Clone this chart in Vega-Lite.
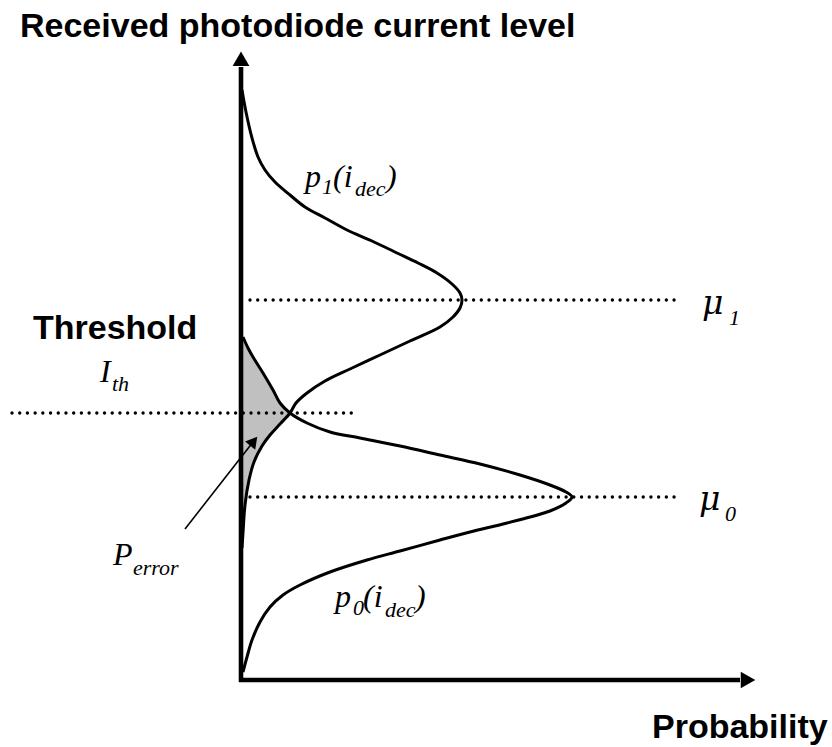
{
  "$schema": "https://vega.github.io/schema/vega-lite/v6.json",
  "width": 832,
  "height": 747,
  "padding": 0,
  "autosize": {"type": "none"},
  "background": "white",
  "config": {"view": {"stroke": null}},
  "datasets": {
    "curves": [
      {"curve": "p1", "i": 1, "prob": 0.01, "level": 5.90},
      {"curve": "p1", "i": 2, "prob": 0.05, "level": 5.68},
      {"curve": "p1", "i": 3, "prob": 0.11, "level": 5.42},
      {"curve": "p1", "i": 4, "prob": 0.17, "level": 5.23},
      {"curve": "p1", "i": 5, "prob": 0.24, "level": 5.10},
      {"curve": "p1", "i": 6, "prob": 0.34, "level": 4.98},
      {"curve": "p1", "i": 7, "prob": 0.49, "level": 4.85},
      {"curve": "p1", "i": 8, "prob": 0.64, "level": 4.73},
      {"curve": "p1", "i": 9, "prob": 0.84, "level": 4.62},
      {"curve": "p1", "i": 10, "prob": 1.06, "level": 4.50},
      {"curve": "p1", "i": 11, "prob": 1.31, "level": 4.39},
      {"curve": "p1", "i": 12, "prob": 1.56, "level": 4.27},
      {"curve": "p1", "i": 13, "prob": 1.77, "level": 4.17},
      {"curve": "p1", "i": 14, "prob": 1.96, "level": 4.07},
      {"curve": "p1", "i": 15, "prob": 2.11, "level": 3.96},
      {"curve": "p1", "i": 16, "prob": 2.19, "level": 3.87},
      {"curve": "p1", "i": 17, "prob": 2.21, "level": 3.80},
      {"curve": "p1", "i": 18, "prob": 2.19, "level": 3.72},
      {"curve": "p1", "i": 19, "prob": 2.12, "level": 3.63},
      {"curve": "p1", "i": 20, "prob": 1.99, "level": 3.53},
      {"curve": "p1", "i": 21, "prob": 1.69, "level": 3.39},
      {"curve": "p1", "i": 22, "prob": 1.39, "level": 3.25},
      {"curve": "p1", "i": 23, "prob": 1.09, "level": 3.11},
      {"curve": "p1", "i": 24, "prob": 0.84, "level": 2.99},
      {"curve": "p1", "i": 25, "prob": 0.66, "level": 2.87},
      {"curve": "p1", "i": 26, "prob": 0.55, "level": 2.77},
      {"curve": "p1", "i": 27, "prob": 0.49, "level": 2.67},
      {"curve": "p1", "i": 28, "prob": 0.39, "level": 2.56},
      {"curve": "p1", "i": 29, "prob": 0.29, "level": 2.45},
      {"curve": "p1", "i": 30, "prob": 0.21, "level": 2.34},
      {"curve": "p1", "i": 31, "prob": 0.13, "level": 2.18},
      {"curve": "p1", "i": 32, "prob": 0.08, "level": 2.00},
      {"curve": "p1", "i": 33, "prob": 0.04, "level": 1.75},
      {"curve": "p1", "i": 34, "prob": 0.02, "level": 1.47},
      {"curve": "p1", "i": 35, "prob": 0.01, "level": 1.32},
      {"curve": "p0", "i": 1, "prob": 0.02, "level": 3.43},
      {"curve": "p0", "i": 2, "prob": 0.07, "level": 3.32},
      {"curve": "p0", "i": 3, "prob": 0.12, "level": 3.23},
      {"curve": "p0", "i": 4, "prob": 0.22, "level": 3.07},
      {"curve": "p0", "i": 5, "prob": 0.32, "level": 2.90},
      {"curve": "p0", "i": 6, "prob": 0.39, "level": 2.77},
      {"curve": "p0", "i": 7, "prob": 0.49, "level": 2.67},
      {"curve": "p0", "i": 8, "prob": 0.66, "level": 2.57},
      {"curve": "p0", "i": 9, "prob": 0.89, "level": 2.48},
      {"curve": "p0", "i": 10, "prob": 1.19, "level": 2.42},
      {"curve": "p0", "i": 11, "prob": 1.59, "level": 2.34},
      {"curve": "p0", "i": 12, "prob": 1.99, "level": 2.25},
      {"curve": "p0", "i": 13, "prob": 2.39, "level": 2.16},
      {"curve": "p0", "i": 14, "prob": 2.79, "level": 2.05},
      {"curve": "p0", "i": 15, "prob": 3.09, "level": 1.95},
      {"curve": "p0", "i": 16, "prob": 3.25, "level": 1.88},
      {"curve": "p0", "i": 17, "prob": 3.31, "level": 1.83},
      {"curve": "p0", "i": 18, "prob": 3.25, "level": 1.77},
      {"curve": "p0", "i": 19, "prob": 3.09, "level": 1.69},
      {"curve": "p0", "i": 20, "prob": 2.66, "level": 1.57},
      {"curve": "p0", "i": 21, "prob": 2.29, "level": 1.48},
      {"curve": "p0", "i": 22, "prob": 1.99, "level": 1.40},
      {"curve": "p0", "i": 23, "prob": 1.59, "level": 1.29},
      {"curve": "p0", "i": 24, "prob": 1.26, "level": 1.20},
      {"curve": "p0", "i": 25, "prob": 0.89, "level": 1.08},
      {"curve": "p0", "i": 26, "prob": 0.59, "level": 0.95},
      {"curve": "p0", "i": 27, "prob": 0.42, "level": 0.85},
      {"curve": "p0", "i": 28, "prob": 0.29, "level": 0.73},
      {"curve": "p0", "i": 29, "prob": 0.19, "level": 0.58},
      {"curve": "p0", "i": 30, "prob": 0.11, "level": 0.40},
      {"curve": "p0", "i": 31, "prob": 0.06, "level": 0.23},
      {"curve": "p0", "i": 32, "prob": 0.02, "level": 0.08}
    ],
    "overlap": [
      {"level": 3.43, "prob": 0.02},
      {"level": 3.32, "prob": 0.07},
      {"level": 3.23, "prob": 0.12},
      {"level": 3.07, "prob": 0.22},
      {"level": 2.90, "prob": 0.32},
      {"level": 2.77, "prob": 0.39},
      {"level": 2.67, "prob": 0.49},
      {"level": 2.56, "prob": 0.39},
      {"level": 2.45, "prob": 0.29},
      {"level": 2.34, "prob": 0.21},
      {"level": 2.18, "prob": 0.13},
      {"level": 2.00, "prob": 0.08},
      {"level": 1.75, "prob": 0.04},
      {"level": 1.47, "prob": 0.02}
    ],
    "levels": [
      {"name": "mu1", "level": 3.80, "from": 0.09, "to": 4.39},
      {"name": "mu0", "level": 1.83, "from": 0.09, "to": 4.39},
      {"name": "threshold", "level": 2.67, "from": -2.29, "to": 1.11}
    ],
    "axes": [
      {"axis": "current", "x0": 0, "y0": -0.02, "x1": 0, "y1": 6.13},
      {"axis": "probability", "x0": -0.02, "y0": 0, "x1": 4.99, "y1": 0}
    ],
    "heads": [
      {"axis": "current", "prob": 0, "level": 6.213},
      {"axis": "probability", "prob": 5.07, "level": 0}
    ],
    "pointer": [
      {"i": 1, "prob": -0.56, "level": 1.51},
      {"i": 2, "prob": 0.12, "level": 2.38}
    ],
    "pointerHead": [
      {"prob": 0.127, "level": 2.388}
    ],
    "boldLabels": [
      {"text": "Received photodiode current level", "prob": -2.21, "level": 6.43},
      {"text": "Threshold", "prob": -2.08, "level": 3.41},
      {"text": "Probability", "prob": 4.11, "level": -0.58}
    ],
    "mainLabels": [
      {"text": "p", "prob": 0.64, "level": 4.93},
      {"text": "(i", "prob": 0.92, "level": 4.93},
      {"text": ")", "prob": 1.45, "level": 4.93},
      {"text": "p", "prob": 0.94, "level": 0.73},
      {"text": "(i", "prob": 1.22, "level": 0.73},
      {"text": ")", "prob": 1.74, "level": 0.73},
      {"text": "I", "prob": -1.41, "level": 2.98},
      {"text": "P", "prob": -1.28, "level": 1.15}
    ],
    "muLabels": [
      {"text": "μ", "prob": 4.61, "level": 3.66},
      {"text": "μ", "prob": 4.58, "level": 1.70}
    ],
    "subLabels": [
      {"text": "1", "prob": 0.81, "level": 4.86},
      {"text": "dec", "prob": 1.14, "level": 4.84},
      {"text": "0", "prob": 1.12, "level": 0.65},
      {"text": "dec", "prob": 1.44, "level": 0.63},
      {"text": "th", "prob": -1.29, "level": 2.89},
      {"text": "error", "prob": -1.08, "level": 1.05},
      {"text": "1", "prob": 4.88, "level": 3.55},
      {"text": "0", "prob": 4.84, "level": 1.59}
    ]
  },
  "encoding": {
    "x": {"field": "prob", "type": "quantitative", "axis": null,
          "scale": {"domain": [-2.41, 5.91], "nice": false, "zero": false}},
    "y": {"field": "level", "type": "quantitative", "axis": null,
          "scale": {"domain": [-0.67, 6.80], "nice": false, "zero": false}}
  },
  "layer": [
    {
      "data": {"name": "overlap"},
      "mark": {"type": "area", "orient": "horizontal", "color": "#c0c0c0", "interpolate": "monotone"},
      "encoding": {"x2": {"datum": 0}}
    },
    {
      "data": {"name": "levels"},
      "mark": {"type": "rule", "color": "black", "strokeWidth": 3.4, "strokeCap": "round", "strokeDash": [0.01, 7.7]},
      "encoding": {
        "x": {"field": "from", "type": "quantitative"},
        "x2": {"field": "to"},
        "y": {"field": "level", "type": "quantitative"}
      }
    },
    {
      "data": {"name": "curves"},
      "mark": {"type": "line", "color": "black", "strokeWidth": 3, "interpolate": "catmull-rom"},
      "encoding": {
        "detail": {"field": "curve"},
        "order": {"field": "i", "type": "quantitative"}
      }
    },
    {
      "data": {"name": "axes"},
      "mark": {"type": "rule", "color": "black", "strokeWidth": 4.6},
      "encoding": {
        "x": {"field": "x0", "type": "quantitative"},
        "y": {"field": "y0", "type": "quantitative"},
        "x2": {"field": "x1"},
        "y2": {"field": "y1"}
      }
    },
    {
      "data": {"name": "heads"},
      "mark": {"type": "point", "filled": true, "color": "black", "opacity": 1, "size": 280},
      "encoding": {
        "shape": {"field": "axis", "type": "nominal", "legend": null,
                  "scale": {"domain": ["current", "probability"], "range": ["triangle-up", "triangle-right"]}}
      }
    },
    {
      "data": {"name": "pointer"},
      "mark": {"type": "line", "color": "black", "strokeWidth": 1.6},
      "encoding": {"order": {"field": "i", "type": "quantitative"}}
    },
    {
      "data": {"name": "pointerHead"},
      "mark": {"type": "point", "shape": "triangle-up", "filled": true, "color": "black", "opacity": 1, "size": 170, "angle": 39}
    },
    {
      "data": {"name": "boldLabels"},
      "mark": {"type": "text", "font": "Liberation Sans", "fontWeight": "bold", "fontSize": 34, "align": "left", "baseline": "alphabetic", "color": "black"},
      "encoding": {"text": {"field": "text"}}
    },
    {
      "data": {"name": "mainLabels"},
      "mark": {"type": "text", "font": "Liberation Serif", "fontStyle": "italic", "fontSize": 32, "align": "left", "baseline": "alphabetic", "color": "black"},
      "encoding": {"text": {"field": "text"}}
    },
    {
      "data": {"name": "muLabels"},
      "mark": {"type": "text", "font": "DejaVu Serif", "fontStyle": "italic", "fontSize": 33, "align": "left", "baseline": "alphabetic", "color": "black"},
      "encoding": {"text": {"field": "text"}}
    },
    {
      "data": {"name": "subLabels"},
      "mark": {"type": "text", "font": "Liberation Serif", "fontStyle": "italic", "fontSize": 22, "align": "left", "baseline": "alphabetic", "color": "black"},
      "encoding": {"text": {"field": "text"}}
    }
  ]
}
